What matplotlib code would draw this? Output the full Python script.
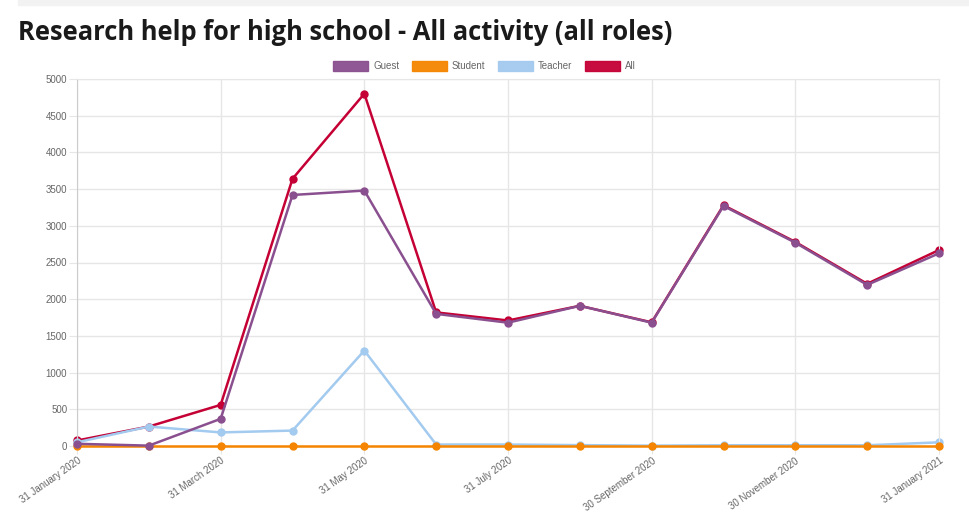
import numpy as np
import matplotlib
matplotlib.use("Agg")
import matplotlib.pyplot as plt
from matplotlib.patches import Rectangle

# Monthly activity, Jan 2020 - Jan 2021
months = ["31 January 2020", "29 February 2020", "31 March 2020", "30 April 2020",
          "31 May 2020", "30 June 2020", "31 July 2020", "31 August 2020",
          "30 September 2020", "31 October 2020", "30 November 2020",
          "31 December 2020", "31 January 2021"]
guest = [30, 5, 370, 3420, 3480, 1800, 1680, 1910, 1680, 3270, 2770, 2195, 2625]
student = [2, 2, 2, 2, 2, 2, 2, 2, 2, 2, 2, 2, 2]
teacher = [50, 265, 185, 210, 1300, 20, 20, 12, 5, 10, 10, 10, 50]
all_roles = [75, 265, 560, 3640, 4800, 1820, 1710, 1910, 1685, 3280, 2780, 2210, 2670]

series = [
    ("Guest", guest, "#8a4f8f", 4),
    ("Student", student, "#f58500", 3),
    ("Teacher", teacher, "#a3caef", 2),
    ("All", all_roles, "#c40035", 1),
]

fig = plt.figure(figsize=(9.69, 5.13), dpi=100)
ax = fig.add_axes([77 / 969, 1 - 446 / 513, 862 / 969, 367 / 513])

# grey strip at the very top of the page
fig.patches.append(Rectangle((18 / 969, 1 - 5 / 513), 1, 5 / 513,
                             transform=fig.transFigure, color="#f2f2f2", zorder=0))

fig.text(18 / 969, 1 - 33 / 513, "Research help for high school - All activity (all roles)",
         fontsize=18.4, fontweight="bold", family="Open Sans", color="#1a1a1a", va="center")

x = np.arange(len(months))
handles = []
for name, vals, col, z in series:
    ax.plot(x, vals, color=col, lw=1.8, marker="o", ms=5, zorder=z, clip_on=False)
    handles.append(Rectangle((0, 0), 1, 1, facecolor=col, edgecolor=col, alpha=0.95))

ax.set_xlim(0, 12)
ax.set_ylim(0, 5000)
ax.set_yticks(range(0, 5001, 500))
ax.set_xticks(x[::2])
ax.set_xticklabels(months[::2], rotation=35, ha="right", va="top", rotation_mode="anchor")

for lab in ax.get_xticklabels() + ax.get_yticklabels():
    lab.set_family("Liberation Sans")
    lab.set_fontsize(7)
    lab.set_color("#666666")

ax.grid(True, color="#e6e6e6", lw=1)
ax.set_axisbelow(True)
ax.tick_params(axis="both", length=6, color="#e6e6e6", pad=1)
for s in ["top", "right"]:
    ax.spines[s].set_color("#e6e6e6")
for s in ["left", "bottom"]:
    ax.spines[s].set_color("#cccccc")

leg = fig.legend(handles, [s[0] for s in series], loc="center",
                 bbox_to_anchor=(0.5, 1 - 66 / 513), ncol=4, frameon=False,
                 handlelength=3.6, handleheight=1.2, handletextpad=0.5, columnspacing=1.3,
                 prop={"family": "Liberation Sans", "size": 7})
for t in leg.get_texts():
    t.set_color("#666666")

fig.savefig("out.png", dpi=100)
